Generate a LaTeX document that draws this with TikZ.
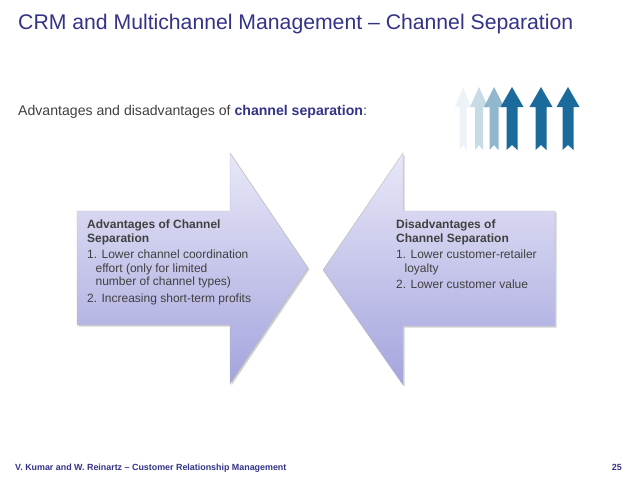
\documentclass[tikz,border=0pt]{standalone}
\usepackage{fontspec}
\setmainfont{Liberation Sans}
\usetikzlibrary{shadows}
\definecolor{titleblue}{HTML}{333388}
\definecolor{bodygrey}{HTML}{404040}
\definecolor{arrowtop}{HTML}{E8E8F8}
\definecolor{arrowbot}{HTML}{A4A4DE}
\definecolor{icondark}{HTML}{1A6A9B}
\tikzset{
  bigarrow/.style={top color=arrowtop, bottom color=arrowbot, draw=gray!55, line width=0.4pt,
    drop shadow={opacity=0.35, shadow xshift=1.5pt, shadow yshift=-1.5pt}},
  boxtext/.style={anchor=north west, align=left, text=bodygrey, inner sep=0pt,
    font=\fontsize{12}{13.5}\selectfont},
}
\newcommand{\uparrowicon}[4]{% cx, half shaft, half head, color
  \fill[#4] (#1-#2,150) -- (#1,145) -- (#1+#2,150) -- (#1+#2,107) -- (#1+#3,107)
     -- (#1,87) -- (#1-#3,107) -- (#1-#2,107) -- cycle;}
\begin{document}
\begin{tikzpicture}[x=1pt,y=-1pt]
\useasboundingbox (0,0) rectangle (638,479);
\fill[white] (0,0) rectangle (638,479);

% title
\node[anchor=base west, inner sep=0pt, text=titleblue, font=\fontsize{21.2}{24}\selectfont]
  (title) at (18,30) {CRM and Multichannel Management -- Channel Separation};

% subtitle
\node[anchor=base west, inner sep=0pt, text=bodygrey, font=\fontsize{14.1}{16}\selectfont]
  (subtitle) at (18,115) {Advantages and disadvantages of \textcolor{titleblue}{\bfseries channel separation}:};

% icon arrows
\uparrowicon{463}{3.5}{8}{fill=white!85!icondark, opacity=0.5}
\uparrowicon{479}{4}{9}{fill=white!60!icondark, opacity=0.6}
\uparrowicon{494}{4.5}{10}{fill=white!40!icondark, opacity=0.8}
\uparrowicon{512}{5.5}{11.5}{fill=icondark}
\uparrowicon{541}{5.5}{11.5}{fill=icondark}
\uparrowicon{568}{5.5}{11.5}{fill=icondark}

% left arrow
\path[bigarrow] (77,211) -- (230,211) -- (230,153) -- (308,268) -- (230,384)
  -- (230,325) -- (77,325) -- cycle;
% right arrow
\path[bigarrow] (555,211) -- (403,211) -- (403,153) -- (323,270) -- (403,385)
  -- (403,326) -- (555,326) -- cycle;

\node[boxtext] (adv) at (87,220) {%
  \textbf{Advantages of Channel}\\
  \textbf{Separation}\\[3pt]
  1. Lower channel coordination\\
  \hspace*{0.7em}effort (only for limited\\
  \hspace*{0.7em}number of channel types)\\[3pt]
  2. Increasing short-term profits};

\node[boxtext] (dis) at (396,220) {%
  \textbf{Disadvantages of}\\
  \textbf{Channel Separation}\\[3pt]
  1. Lower customer-retailer\\
  \hspace*{0.7em}loyalty\\[3pt]
  2. Lower customer value};

% footer
\node[anchor=base west, inner sep=0pt, text=titleblue, font=\fontsize{8.9}{10}\selectfont\bfseries]
  (footer) at (15,470) {V. Kumar and W. Reinartz -- Customer Relationship Management};
\node[anchor=base east, inner sep=0pt, text=titleblue, font=\fontsize{8.9}{10}\selectfont\bfseries]
  (page) at (622,470) {25};
\end{tikzpicture}
\end{document}
